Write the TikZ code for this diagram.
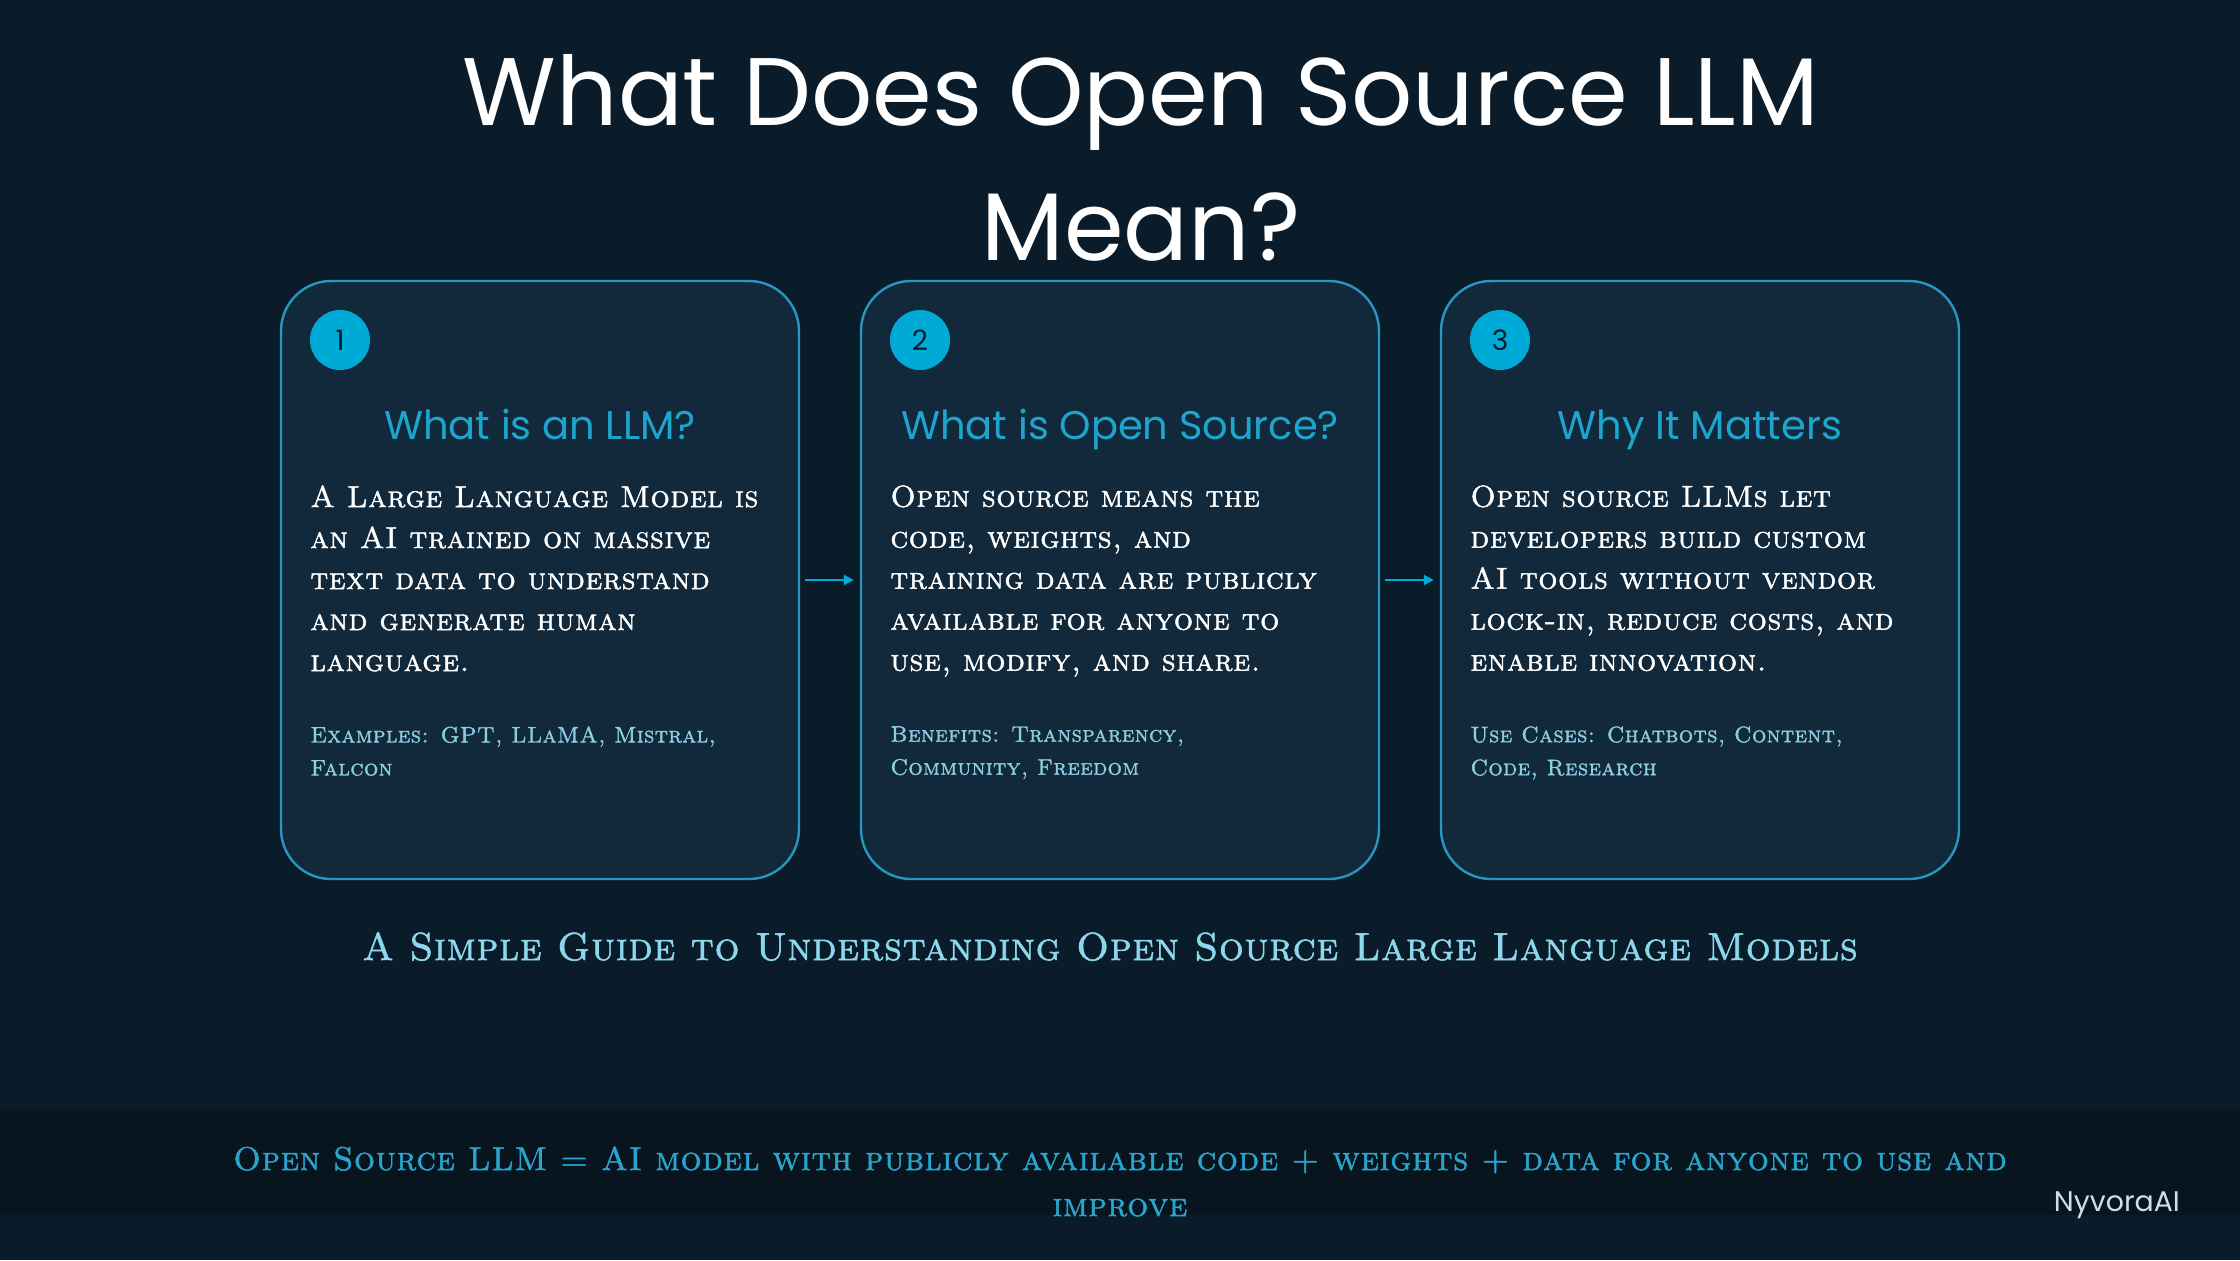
\documentclass[tikz,border=0pt]{standalone}
\usepackage{fontspec}
\newfontfamily\poppins{Poppins}
\newfontfamily\capsfont{lmromancaps10-regular.otf}[LetterSpace=2, FakeBold=1.5]
\usetikzlibrary{arrows.meta, positioning}
\definecolor{cBackground}{RGB}{10,28,42}
\definecolor{cBand}{RGB}{8,20,30}
\definecolor{cCardFill}{RGB}{17,41,59}
\definecolor{cCardBorder}{RGB}{40,150,190}
\definecolor{cAccent}{RGB}{0,170,214}
\definecolor{cHeading}{RGB}{30,165,205}
\definecolor{cSubText}{RGB}{140,205,225}
\definecolor{cSubtitle}{RGB}{140,215,235}
\definecolor{cFooterText}{RGB}{40,165,205}
\definecolor{cBrand}{RGB}{200,225,235}

\begin{document}
\begin{tikzpicture}[x=0.5pt, y=-0.5pt,
    card/.style={draw=cCardBorder, line width=1.2pt, fill=cCardFill, rounded corners=25pt,
      minimum width=259pt, minimum height=299pt},
    badge/.style={circle, fill=cAccent, minimum size=30pt, inner sep=0pt,
      font=\poppins\fontsize{14}{14}\selectfont, text=cBackground},
    heading/.style={anchor=base, text=cHeading, font=\poppins\fontsize{20}{24}\selectfont},
    bodytext/.style={anchor=north west, inner sep=0pt, align=left, text=white,
      font=\capsfont\fontsize{15.1}{20.5}\selectfont},
    subtext/.style={anchor=north west, inner sep=0pt, align=left, text=cSubText,
      font=\capsfont\fontsize{11.2}{16.5}\selectfont},
    flow/.style={draw=cAccent, line width=1.2pt, -{Triangle[length=5pt, width=5pt]},
      shorten <=2.5pt, shorten >=3pt}]
    \useasboundingbox (0,0) rectangle (2240,1260);
    \fill[cBackground] (0,0) rectangle (2240,1260);
    \fill[cBand] (0,1111) rectangle (2240,1215);

    % title
    \node[anchor=north, inner sep=0pt, align=center, text=white,
      font=\poppins\fontsize{48}{67.5}\selectfont] (title) at (1141,54)
      {What Does Open Source LLM\\ Mean?};

    % cards
    \foreach \i/\cx in {1/540, 2/1120, 3/1700} {
      \node[card] (card\i) at (\cx,580) {};
      \node[badge] (badge\i) at (\cx-200,340) {\i};
    }

    \node[heading] (head1) at (540,439) {What is an LLM?};
    \node[bodytext] (body1) at (310,485)
      {A Large Language Model is\\ an AI trained on massive\\ text data to understand\\
       and generate human\\ language.};
    \node[subtext] (note1) at (310,726) {Examples: GPT, LLaMA, Mistral,\\ Falcon};

    \node[heading] (head2) at (1120,439) {What is Open Source?};
    \node[bodytext] (body2) at (890,485)
      {Open source means the\\ code, weights, and\\ training data are publicly\\
       available for anyone to\\ use, modify, and share.};
    \node[subtext] (note2) at (890,726) {Benefits: Transparency,\\ Community, Freedom};

    \node[heading] (head3) at (1700,439) {Why It Matters};
    \node[bodytext] (body3) at (1470,485)
      {Open source LLMs let\\ developers build custom\\ AI tools without vendor\\
       lock-in, reduce costs, and\\ enable innovation.};
    \node[subtext] (note3) at (1470,726) {Use Cases: Chatbots, Content,\\ Code, Research};

    \draw[flow] (card1.east) -- (card2.west);
    \draw[flow] (card2.east) -- (card3.west);

    % subtitle and footer
    \node[anchor=base, text=cSubtitle, font=\capsfont\fontsize{19.5}{24}\selectfont] (subtitle)
      at (1110,960) {A Simple Guide to Understanding Open Source Large Language Models};
    \node[anchor=north, inner sep=0pt, align=center, text=cFooterText,
      font=\capsfont\fontsize{16.5}{23}\selectfont] (footer) at (1120,1146)
      {Open Source LLM = AI model with publicly available code + weights + data for anyone to use and\\ improve};
    \node[anchor=base east, text=cBrand, font=\poppins\fontsize{14.2}{14.2}\selectfont] (brand)
      at (2187,1211) {NyvoraAI};
\end{tikzpicture}
\end{document}
